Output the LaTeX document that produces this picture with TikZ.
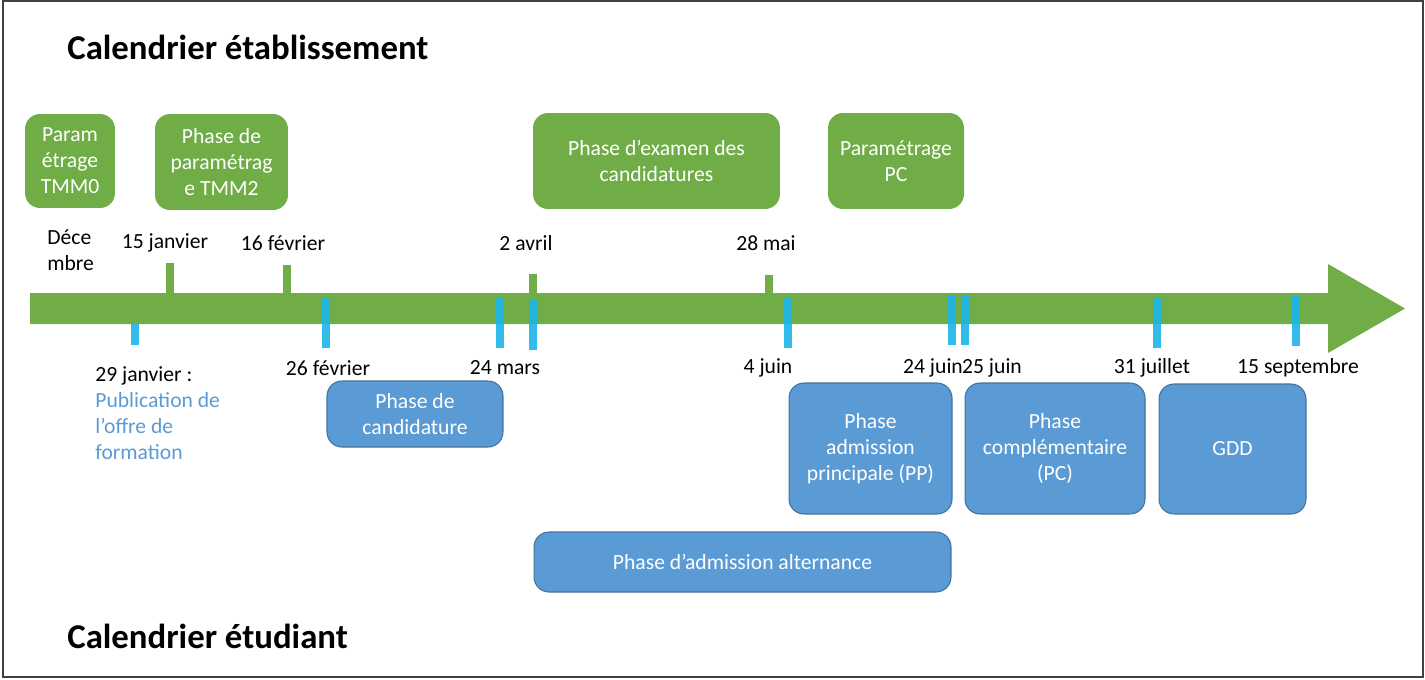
\documentclass[tikz,border=0pt]{standalone}
\usepackage{fontspec}
\setmainfont{Carlito}
\usepackage{tikz}
\usetikzlibrary{positioning}
\usepackage{xcolor}
\definecolor{vert}{HTML}{70AD47}
\definecolor{bleu}{HTML}{5B9BD5}
\definecolor{bleubord}{HTML}{41719C}
\definecolor{ciel}{HTML}{1CB4EA}

\begin{document}
\begin{tikzpicture}[x=0.02cm, y=-0.02cm,
  every node/.style = {font=\fontsize{12.3}{14.8}\selectfont},
  gbox/.style = {fill=vert, rounded corners=0.3cm, text=white, align=center, inner sep=1pt},
  bbox/.style = {fill=bleu, draw=bleubord, line width=0.6pt, rounded corners=0.3cm, text=white, align=center, inner sep=1pt},
  date/.style = {align=center, inner sep=0pt},
  titre/.style = {font=\fontsize{19.8}{23}\selectfont\bfseries, anchor=west, inner sep=0pt}]
\useasboundingbox (0,0) rectangle (1425,679);
\draw[line width=1pt, black!75] (3,1) rectangle (1423,677);

\node[titre] (t1) at (67,47) {Calendrier établissement};
\node[titre] (t2) at (67,636) {Calendrier étudiant};

% fleche du temps
\fill[vert] (30,293) -- (1328,293) -- (1328,264) -- (1405,308.5) -- (1328,353) -- (1328,324) -- (30,324) -- cycle;
\foreach \x/\a in {170/263, 287/265, 533/274, 769/275}
  \fill[vert] (\x-4,\a) rectangle (\x+4,300);
\foreach \x/\a/\b in {135/324/345, 326/298/348, 500/298/348, 533/300/350, 788/297/348, 952/295/345, 965/295/345, 1157/298/348, 1296/296/346}
  \fill[ciel, opacity=0.9] (\x-4,\a) rectangle (\x+4,\b);

% etablissement
\node[gbox, minimum width=1.8cm, minimum height=1.88cm] (g1) at (70,161) {Param\\étrage\\TMM0};
\node[gbox, minimum width=2.66cm, minimum height=1.92cm] (g2) at (221.5,162) {Phase de\\paramétrag\\e TMM2};
\node[gbox, minimum width=4.94cm, minimum height=1.92cm] (g3) at (656.5,161) {Phase d’examen des\\candidatures};
\node[gbox, minimum width=2.72cm, minimum height=1.92cm] (g4) at (896,161) {Paramétrage\\PC};

\node[date, anchor=west, align=left] (d0) at (47,250) {Déce\\mbre};
\node[date] (d1) at (165,243) {15 janvier};
\node[date] (d2) at (283,243) {16 février};
\node[date] (d3) at (526,243) {2 avril};
\node[date] (d4) at (766,243) {28 mai};

% etudiant
\node[date, anchor=north west, align=left] (e0) at (95,366) {29 janvier :\\\textcolor{bleu}{Publication de}\\\textcolor{bleu}{l’offre de}\\\textcolor{bleu}{formation}};
\node[date] (e1) at (328,368) {26 février};
\node[date] (e2) at (505,368) {24 mars};
\node[date] (e3) at (768,368) {4 juin};
\node[date] (e4) at (933,368) {24 juin};
\node[date] (e5) at (992,368) {25 juin};
\node[date] (e6) at (1152,368) {31 juillet};
\node[date] (e7) at (1298,368) {15 septembre};

\node[bbox, minimum width=3.52cm, minimum height=1.32cm] (b1) at (415,414) {Phase de\\candidature};
\node[bbox, minimum width=3.26cm, minimum height=2.62cm] (b2) at (870.5,448.5) {Phase\\admission\\principale (PP)};
\node[bbox, minimum width=3.6cm, minimum height=2.62cm] (b3) at (1055,448.5) {Phase\\complémentaire\\(PC)};
\node[bbox, minimum width=2.94cm, minimum height=2.6cm] (b4) at (1232.5,449) {GDD};
\node[bbox, minimum width=8.34cm, minimum height=1.2cm] (b5) at (742.5,562) {Phase d’admission alternance};
\end{tikzpicture}
\end{document}
